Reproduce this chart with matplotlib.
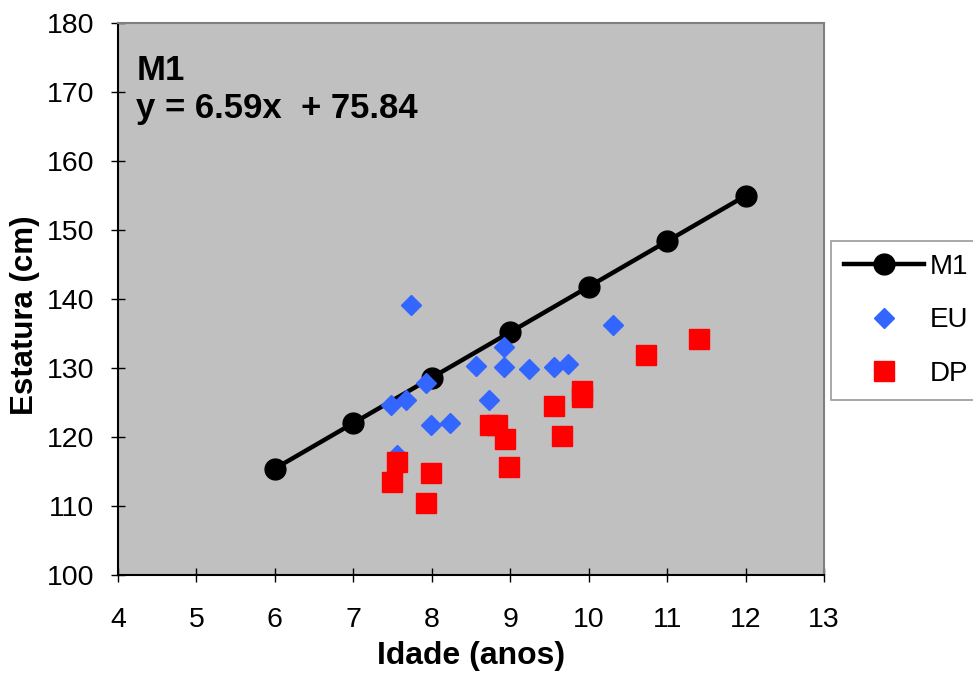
import numpy as np
import matplotlib
matplotlib.use("Agg")
import matplotlib.pyplot as plt

plt.rcParams['font.family'] = ['Liberation Sans', 'DejaVu Sans']

# Model M1: estatura = 6.59 * idade + 75.84
m1_slope = 6.59
m1_intercept = 75.84
m1_ages = [6, 7, 8, 9, 10, 11, 12]

# EU group
eu_age = [7.74, 7.48, 7.67, 7.92, 7.56, 7.99, 8.23, 8.57, 8.73, 8.92,
          8.92, 9.24, 9.56, 9.74, 10.31]
eu_height = [139.1, 124.6, 125.3, 127.8, 117.4, 121.7, 122.0, 130.2, 125.3, 133.0,
             130.1, 129.8, 130.1, 130.5, 136.2]

# DP group
dp_age = [7.56, 7.49, 7.99, 7.92, 8.74, 8.83, 8.93, 8.99, 9.56, 9.92,
          9.92, 9.66, 10.73, 11.41]
dp_height = [116.3, 113.5, 114.7, 110.4, 121.7, 121.7, 119.6, 115.6, 124.4, 126.6,
             125.8, 120.1, 131.8, 134.2]

x_ticks = [4, 5, 6, 7, 8, 9, 10, 11, 12, 13]
y_ticks = [100, 110, 120, 130, 140, 150, 160, 170, 180]

m1_height = [m1_slope * a + m1_intercept for a in m1_ages]

fig = plt.figure(figsize=(9.73, 6.74), dpi=100)
ax = fig.add_axes([118 / 973, 1 - 574.7 / 674, 706 / 973, 552 / 674])
ax.set_facecolor('#C0C0C0')

ax.plot(m1_ages, m1_height, '-o', color='black', lw=3.2, markersize=15,
        label='M1', zorder=3)
ax.plot(eu_age, eu_height, 'D', color='#3366FF', markersize=10.5,
        linestyle='none', label='EU', zorder=4)
ax.plot(dp_age, dp_height, 's', color='#FF0000', markersize=14,
        linestyle='none', label='DP', zorder=5)

ax.set_xlim(4, 13)
ax.set_ylim(100, 180)
ax.set_xticks(x_ticks)
ax.set_yticks(y_ticks)
ax.tick_params(axis='both', direction='inout', length=10, width=1,
               labelsize=20.5)
ax.tick_params(axis='x', pad=18)
ax.tick_params(axis='y', pad=12)

for side in ['top', 'right']:
    ax.spines[side].set_color('#808080')
    ax.spines[side].set_linewidth(1.5)
for side in ['left', 'bottom']:
    ax.spines[side].set_color('black')
    ax.spines[side].set_linewidth(1.5)

ax.set_xlabel('Idade (anos)', fontsize=23, fontweight='bold', labelpad=6)
ax.set_ylabel('Estatura (cm)', fontsize=22.5, fontweight='bold')
ax.yaxis.set_label_coords(-0.11, 0.47)

ax.text(0.026, 0.896, 'M1', transform=ax.transAxes, fontsize=25,
        fontweight='bold', va='baseline', ha='left')
ax.text(0.026, 0.827, 'y = %.2fx  + %.2f' % (m1_slope, m1_intercept),
        transform=ax.transAxes, fontsize=25, fontweight='bold',
        va='baseline', ha='left')

leg = fig.legend(loc='upper left', bbox_to_anchor=(831 / 973, 1 - 241 / 674),
                 fontsize=20, frameon=True, fancybox=False, handlelength=2.9,
                 handletextpad=0.2, labelspacing=1.0, borderpad=0.45,
                 borderaxespad=0)
leg.get_frame().set_edgecolor('#808080')
leg.get_frame().set_linewidth(1.2)

fig.savefig('out.png', dpi=100)
